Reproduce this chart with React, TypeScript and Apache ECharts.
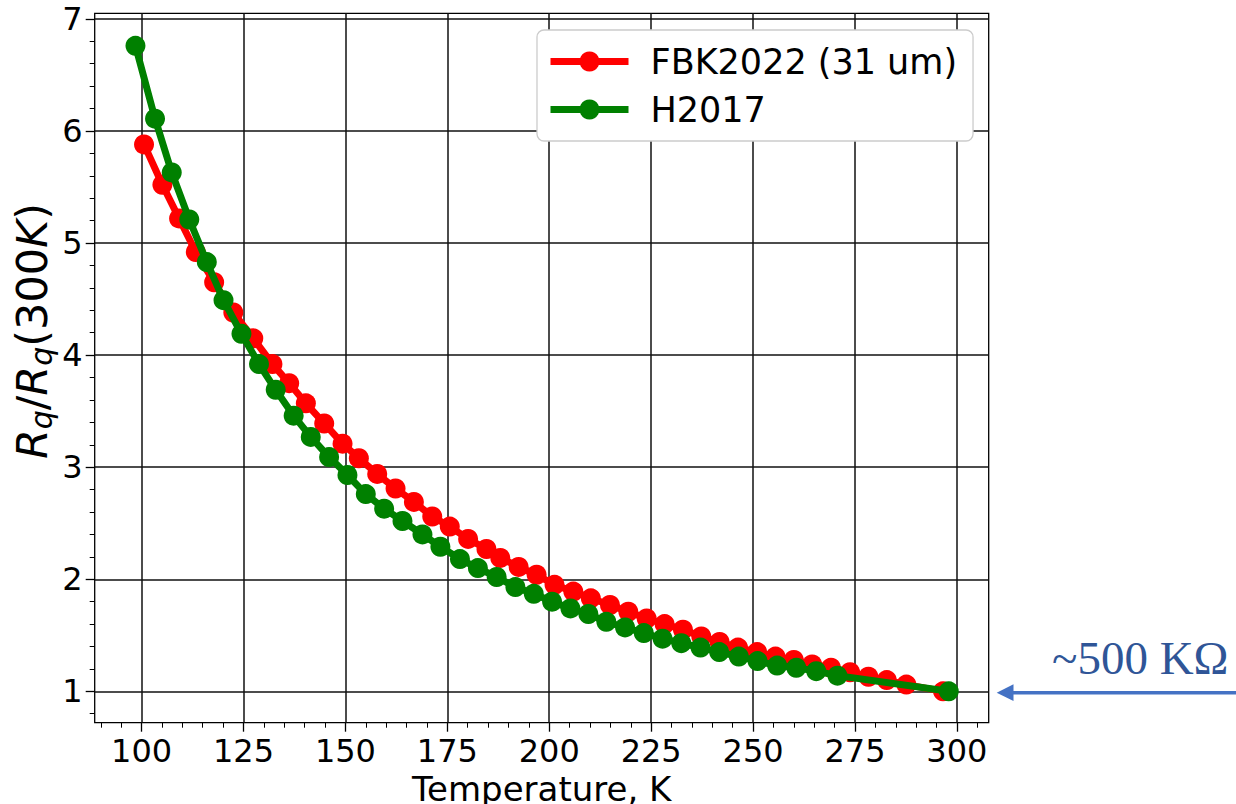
import React, { useEffect, useRef } from "react";
import * as echarts from "echarts";

// FBK2022 (31 um): temperature [K] and Rq/Rq(300K)
const fbkT = [100.6, 105.1, 109.2, 113.3, 117.8, 122.5, 127.4, 132.1, 136.2, 140.3, 144.8, 149.3, 153.3, 157.8, 162.3, 166.8, 171.3, 175.6, 180.1, 184.6, 188.0, 192.5, 196.9, 201.3, 205.9, 210.2, 214.9, 219.4, 223.9, 228.3, 232.8, 237.3, 241.8, 246.3, 251.0, 255.5, 260.0, 264.5, 269.1, 273.8, 278.3, 282.8, 287.6, 296.6];
const fbkV = [5.88, 5.52, 5.22, 4.92, 4.65, 4.38, 4.15, 3.92, 3.75, 3.57, 3.39, 3.21, 3.08, 2.94, 2.81, 2.69, 2.56, 2.47, 2.36, 2.27, 2.19, 2.11, 2.04, 1.95, 1.89, 1.83, 1.77, 1.71, 1.65, 1.60, 1.55, 1.49, 1.44, 1.39, 1.35, 1.31, 1.28, 1.24, 1.21, 1.17, 1.13, 1.10, 1.06, 1.00];

// H2017
const hT = [98.5, 103.3, 107.4, 111.7, 116.0, 120.1, 124.5, 128.8, 132.9, 137.3, 141.5, 146.0, 150.5, 155.0, 159.5, 164.0, 168.9, 173.3, 178.1, 182.5, 187.1, 191.7, 196.2, 200.7, 205.2, 209.6, 214.0, 218.6, 223.2, 227.8, 232.4, 237.1, 241.7, 246.5, 251.1, 255.9, 260.6, 265.5, 270.7, 298.0];
const hV = [6.76, 6.11, 5.63, 5.21, 4.83, 4.49, 4.19, 3.92, 3.69, 3.46, 3.27, 3.09, 2.93, 2.76, 2.63, 2.52, 2.40, 2.29, 2.18, 2.10, 2.02, 1.93, 1.87, 1.80, 1.74, 1.69, 1.62, 1.57, 1.52, 1.47, 1.43, 1.39, 1.35, 1.31, 1.27, 1.23, 1.21, 1.18, 1.14, 1.00];

const seriesNames = ["FBK2022 (31 um)", "H2017"];

const xMajorTicks = [100, 125, 150, 175, 200, 225, 250, 275, 300];
const xMinorTicks = [90, 95, 105, 110, 115, 120, 130, 135, 140, 145, 155, 160, 165, 170, 180, 185, 190, 195, 205, 210, 215, 220, 230, 235, 240, 245, 255, 260, 265, 270, 280, 285, 290, 295, 305];
const yMajorTicks = [1, 2, 3, 4, 5, 6, 7];
const yMinorTicks = [0.8, 1.2, 1.4, 1.6, 1.8, 2.2, 2.4, 2.6, 2.8, 3.2, 3.4, 3.6, 3.8, 4.2, 4.4, 4.6, 4.8, 5.2, 5.4, 5.6, 5.8, 6.2, 6.4, 6.6, 6.8];

const X_MIN = 88.5;
const X_MAX = 307.8;
const Y_MIN = 0.72;
const Y_MAX = 7.05;

const FONT = "DejaVu Sans";

export default function App() {
  const ref = useRef<HTMLDivElement>(null);

  useEffect(() => {
    if (!ref.current) return;
    const chart = echarts.init(ref.current, null, { renderer: "svg" });

    const fbkData = fbkT.map((t, i) => [t, fbkV[i]]);
    const hData = hT.map((t, i) => [t, hV[i]]);

    const tickLine = { color: "#000", width: 1.3 };

    const option: any = {
      animation: false,
      backgroundColor: "#ffffff",
      grid: {
        left: 94.7,
        top: 13.3,
        right: 247.3,
        bottom: 81.3,
        show: true,
        borderColor: "#000",
        borderWidth: 1.3,
        backgroundColor: "transparent",
        containLabel: false,
        outerBoundsMode: "none",
      },
      xAxis: [
        {
          type: "value",
          min: X_MIN,
          max: X_MAX,
          position: "bottom",
          axisLine: { show: false, onZero: false },
          axisTick: { show: true, customValues: xMajorTicks, length: 9, lineStyle: tickLine },
          axisLabel: { customValues: xMajorTicks, fontSize: 32, fontFamily: FONT, color: "#000", margin: 12 },
          splitLine: { show: true, lineStyle: { color: "#111", width: 1.5 } },
          name: "Temperature, K",
          nameLocation: "middle",
          nameGap: 42,
          nameTextStyle: { fontSize: 34, fontFamily: FONT, color: "#000" },
        },
        {
          type: "value",
          min: X_MIN,
          max: X_MAX,
          position: "bottom",
          axisLine: { show: false, onZero: false },
          axisTick: { show: true, customValues: xMinorTicks, length: 5, lineStyle: { color: "#000", width: 1 } },
          axisLabel: { show: false },
          splitLine: { show: false },
        },
      ],
      yAxis: [
        {
          type: "value",
          min: Y_MIN,
          max: Y_MAX,
          position: "left",
          axisLine: { show: false, onZero: false },
          axisTick: { show: true, customValues: yMajorTicks, length: 9, lineStyle: tickLine },
          axisLabel: { customValues: yMajorTicks, fontSize: 32, fontFamily: FONT, color: "#000", margin: 12 },
          splitLine: { show: true, lineStyle: { color: "#111", width: 1.5 } },
        },
        {
          type: "value",
          min: Y_MIN,
          max: Y_MAX,
          position: "left",
          axisLine: { show: false, onZero: false },
          axisTick: { show: true, customValues: yMinorTicks, length: 5, lineStyle: { color: "#000", width: 1 } },
          axisLabel: { show: false },
          splitLine: { show: false },
        },
      ],
      legend: {
        orient: "vertical",
        left: 537,
        top: 30,
        padding: [14, 16, 14, 10],
        itemWidth: 78,
        itemHeight: 25,
        itemGap: 13,
        backgroundColor: "#ffffff",
        borderColor: "#cccccc",
        borderWidth: 1.3,
        borderRadius: 7,
        lineStyle: { width: 7 },
        textStyle: { fontSize: 35, fontFamily: FONT, color: "#000", padding: [0, 0, 0, 17] },
        data: seriesNames,
      },
      series: [
        {
          name: seriesNames[0],
          type: "line",
          xAxisIndex: 0,
          yAxisIndex: 0,
          data: fbkData,
          symbol: "circle",
          symbolSize: 20,
          color: "#ff0000",
          itemStyle: { color: "#ff0000" },
          lineStyle: { color: "#ff0000", width: 7 },
          z: 2,
        },
        {
          name: seriesNames[1],
          type: "line",
          xAxisIndex: 0,
          yAxisIndex: 0,
          data: hData,
          symbol: "circle",
          symbolSize: 20,
          color: "#008000",
          itemStyle: { color: "#008000" },
          lineStyle: { color: "#008000", width: 7 },
          z: 3,
        },
      ],
      graphic: [
        {
          type: "text",
          x: 32,
          y: 331,
          rotation: Math.PI / 2,
          style: {
            text: "{i|R}{s|q}{n|/}{i|R}{s|q}{n|(300}{i|K}{n|)}",
            textAlign: "center",
            textVerticalAlign: "middle",
            rich: {
              i: { fontFamily: FONT, fontStyle: "italic", fontSize: 43, fill: "#000" },
              n: { fontFamily: FONT, fontSize: 43, fill: "#000" },
              s: { fontFamily: FONT, fontStyle: "italic", fontSize: 30, fill: "#000", padding: [19, 0, 0, 0] },
            },
          },
        },
        {
          type: "line",
          shape: { x1: 1236, y1: 692.7, x2: 1010, y2: 692.7 },
          style: { stroke: "#4472C4", lineWidth: 3.5 },
        },
        {
          type: "polygon",
          shape: { points: [[996.7, 692.7], [1013.5, 684.3], [1013.5, 701.1]] },
          style: { fill: "#4472C4" },
        },
        {
          type: "text",
          x: 1052,
          y: 657.5,
          style: {
            text: "~500 KΩ",
            fontFamily: "Liberation Serif",
            fontSize: 47,
            fill: "#2F5597",
            textVerticalAlign: "middle",
          },
        },
      ],
    };

    chart.setOption(option);
    return () => chart.dispose();
  }, []);

  return (
    <div
      ref={ref}
      style={{ position: "fixed", left: 0, top: 0, width: 1236, height: 804, background: "#fff" }}
    />
  );
}
